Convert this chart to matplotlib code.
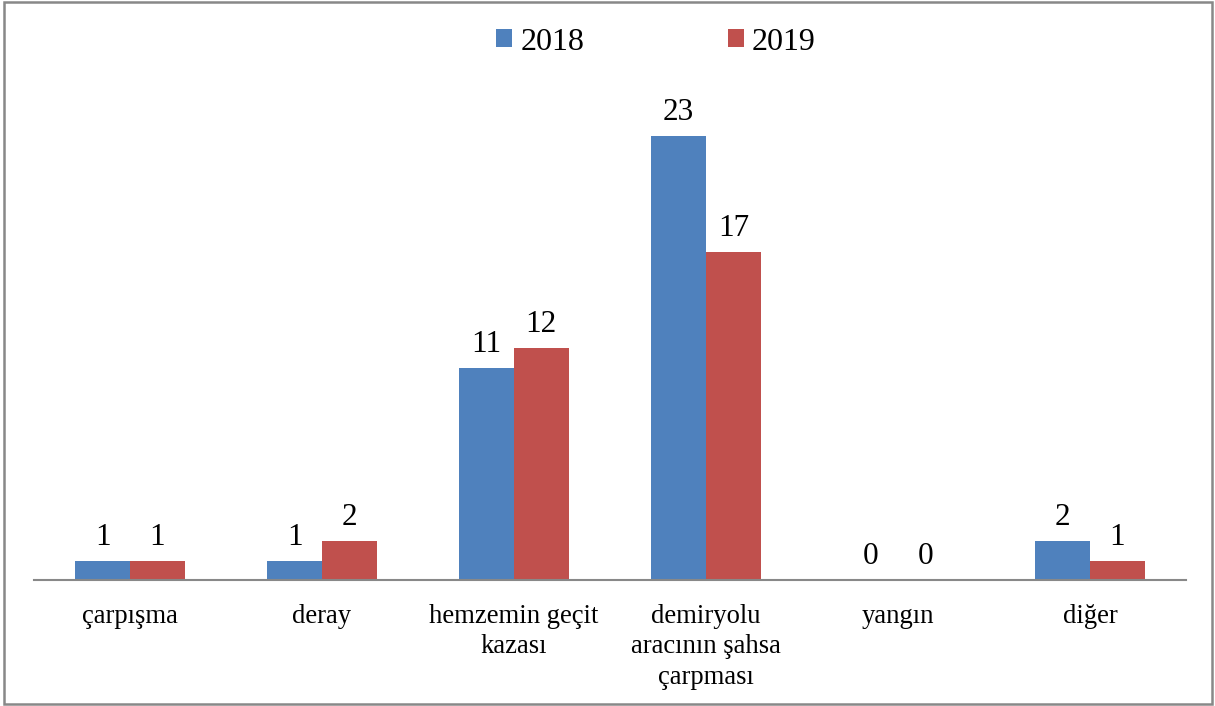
import matplotlib
matplotlib.use("Agg")
import matplotlib.pyplot as plt
import numpy as np
from matplotlib.patches import Rectangle

categories = ["çarpışma", "deray", "hemzemin geçit\nkazası",
              "demiryolu\naracının şahsa\nçarpması", "yangın", "diğer"]
series_names = ["2018", "2019"]
values_2018 = [1, 1, 11, 23, 0, 2]
values_2019 = [1, 2, 12, 17, 0, 1]
colors = ["#4F81BD", "#C0504D"]

plt.rcParams['font.family'] = ['Liberation Serif', 'DejaVu Serif']

W, H = 1215, 706
fig = plt.figure(figsize=(W / 100, H / 100), dpi=100)

ymax = 25
y0_px = 580
px_per_unit = 444 / 23
top_px = y0_px - ymax * px_per_unit
left_px, right_px = 34, 1186
ax = fig.add_axes([left_px / W, (H - y0_px) / H, (right_px - left_px) / W, (y0_px - top_px) / H])

x = np.arange(len(categories))
bw = 0.285
b1 = ax.bar(x - bw / 2, values_2018, bw, color=colors[0], label=series_names[0])
b2 = ax.bar(x + bw / 2, values_2019, bw, color=colors[1], label=series_names[1])

for bars, vals in ((b1, values_2018), (b2, values_2019)):
    for rect, v in zip(bars, vals):
        ax.annotate(str(v), (rect.get_x() + rect.get_width() / 2, v),
                    xytext=(0, 6.5), textcoords="offset points",
                    ha="center", va="bottom", fontsize=22.5)

ax.set_xlim(-0.5, len(categories) - 0.5)
ax.set_ylim(0, ymax)
ax.set_xticks(x)
ax.set_xticklabels(categories, fontsize=19.2, linespacing=1.3, va="top")
ax.tick_params(axis="x", length=0, pad=17)
ax.set_yticks([])
for s in ("top", "right", "left"):
    ax.spines[s].set_visible(False)
ax.spines["bottom"].set_color("#888888")
ax.spines["bottom"].set_linewidth(1.5)

leg = fig.legend(loc="center", bbox_to_anchor=(656 / W, 1 - 42 / H), ncol=2,
                 frameon=False, fontsize=23, handlelength=0.5, handleheight=0.5,
                 handletextpad=0.25, columnspacing=4.5)

fig.patches.append(Rectangle((4 / W, 2 / H), (1212 - 4) / W, (704 - 2) / H,
                             transform=fig.transFigure, fill=False,
                             edgecolor="#888888", linewidth=1.8))

fig.savefig("out.png", dpi=100)
